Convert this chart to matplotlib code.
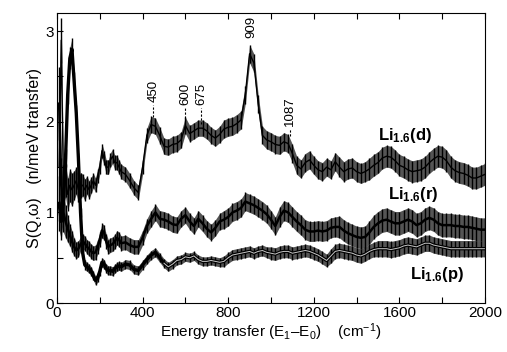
import numpy as np
import matplotlib
matplotlib.use("Agg")
import matplotlib.pyplot as plt
from matplotlib.ticker import MultipleLocator

plt.rcParams['font.family'] = ['Liberation Sans', 'DejaVu Sans']
plt.rcParams['mathtext.fontset'] = 'custom'
plt.rcParams['mathtext.rm'] = 'Liberation Sans'
plt.rcParams['mathtext.it'] = 'Liberation Sans:italic'
plt.rcParams['mathtext.bf'] = 'Liberation Sans:bold'

# energy transfer (cm-1)
energy = list(range(10, 301, 10)) + list(range(320, 2001, 20))

s_d = [1.5, 2.9, 1.3, 1.35, 1.2, 1.3, 1.25, 1.3, 1.35, 1.25,
       1.3, 1.3, 1.25, 1.3, 1.25, 1.3, 1.35, 1.3, 1.4, 1.5,
       1.68, 1.6, 1.5, 1.5, 1.58, 1.62, 1.55, 1.55, 1.5, 1.45,
       1.42, 1.35, 1.27, 1.22, 1.5, 1.85, 1.97, 1.95, 1.85, 1.73,
       1.72, 1.75, 1.76, 1.8, 1.96, 1.87, 1.9, 1.93, 1.93, 1.9,
       1.85, 1.82, 1.86, 1.92, 1.94, 1.95, 1.98, 2.02, 2.3, 2.75,
       2.65, 2.2, 1.85, 1.8, 1.78, 1.75, 1.74, 1.78, 1.76, 1.65,
       1.52, 1.48, 1.55, 1.58, 1.52, 1.47, 1.45, 1.5, 1.47, 1.56,
       1.5, 1.45, 1.48, 1.49, 1.45, 1.43, 1.45, 1.48, 1.52, 1.55,
       1.6, 1.62, 1.61, 1.57, 1.52, 1.5, 1.47, 1.45, 1.46, 1.47,
       1.5, 1.55, 1.59, 1.62, 1.61, 1.57, 1.5, 1.46, 1.44, 1.43,
       1.41, 1.38, 1.38, 1.4, 1.42]
err_d = [0.6, 0.25, 0.22, 0.18, 0.18, 0.18, 0.18, 0.16, 0.15, 0.14,
         0.14, 0.12, 0.12, 0.1, 0.1, 0.09, 0.08, 0.08, 0.08, 0.08,
         0.08, 0.08, 0.08, 0.08, 0.08, 0.08, 0.08, 0.08, 0.08, 0.08,
         0.08, 0.08, 0.08, 0.08, 0.08, 0.08, 0.09, 0.09, 0.09, 0.09,
         0.09, 0.09, 0.09, 0.09, 0.09, 0.09, 0.09, 0.09, 0.09, 0.09,
         0.09, 0.09, 0.09, 0.1, 0.1, 0.1, 0.1, 0.1, 0.1, 0.1,
         0.1, 0.1, 0.1, 0.1, 0.1, 0.1, 0.1, 0.1, 0.1, 0.1,
         0.1, 0.1, 0.1, 0.1, 0.1, 0.1, 0.1, 0.1, 0.1, 0.1,
         0.11, 0.11, 0.11, 0.11, 0.11, 0.11, 0.11, 0.12, 0.12, 0.12,
         0.12, 0.12, 0.12, 0.12, 0.12, 0.12, 0.12, 0.12, 0.12, 0.12,
         0.12, 0.12, 0.12, 0.12, 0.12, 0.12, 0.12, 0.12, 0.12, 0.12,
         0.12, 0.12, 0.12, 0.12, 0.12]

s_r = [2.2, 1.3, 1.0, 0.9, 0.82, 0.75, 0.68, 0.62, 0.58, 0.6,
       0.65, 0.68, 0.66, 0.62, 0.6, 0.57, 0.55, 0.56, 0.62, 0.7,
       0.8, 0.78, 0.68, 0.62, 0.64, 0.65, 0.68, 0.72, 0.7, 0.66,
       0.67, 0.64, 0.62, 0.62, 0.72, 0.85, 0.93, 1.0, 0.93, 0.92,
       0.9, 0.87, 0.86, 0.93, 0.97, 0.9, 0.85, 0.93, 0.88, 0.82,
       0.78, 0.83, 0.9, 0.92, 0.95, 1.0, 1.02, 1.05, 1.12, 1.1,
       1.08, 1.05, 1.02, 0.98, 0.92, 0.85, 0.95, 1.02, 1.0, 0.95,
       0.9, 0.86, 0.81, 0.79, 0.79, 0.8, 0.79, 0.8, 0.83, 0.84,
       0.84, 0.8, 0.77, 0.75, 0.73, 0.72, 0.73, 0.78, 0.84, 0.88,
       0.91, 0.92, 0.9, 0.88, 0.88, 0.9, 0.92, 0.9, 0.86, 0.88,
       0.92, 0.94, 0.92, 0.88, 0.86, 0.86, 0.86, 0.85, 0.85, 0.84,
       0.84, 0.83, 0.82, 0.81, 0.81]
err_r = [0.4, 0.3, 0.22, 0.18, 0.15, 0.12, 0.12, 0.1, 0.09, 0.09,
         0.08, 0.08, 0.08, 0.08, 0.08, 0.08, 0.08, 0.08, 0.08, 0.08,
         0.08, 0.08, 0.08, 0.08, 0.08, 0.08, 0.08, 0.08, 0.08, 0.08,
         0.08, 0.08, 0.08, 0.08, 0.08, 0.08, 0.09, 0.09, 0.09, 0.09,
         0.09, 0.09, 0.09, 0.09, 0.09, 0.09, 0.09, 0.09, 0.09, 0.09,
         0.09, 0.09, 0.09, 0.1, 0.1, 0.1, 0.1, 0.1, 0.1, 0.1,
         0.1, 0.1, 0.1, 0.1, 0.1, 0.1, 0.11, 0.11, 0.11, 0.11,
         0.11, 0.11, 0.11, 0.11, 0.11, 0.11, 0.11, 0.11, 0.11, 0.11,
         0.12, 0.12, 0.12, 0.12, 0.12, 0.12, 0.12, 0.13, 0.13, 0.13,
         0.13, 0.13, 0.13, 0.13, 0.13, 0.13, 0.13, 0.13, 0.13, 0.13,
         0.13, 0.13, 0.13, 0.13, 0.13, 0.13, 0.13, 0.13, 0.13, 0.13,
         0.13, 0.13, 0.13, 0.13, 0.13]

s_p = [1.1, 0.9, 1.1, 1.6, 2.3, 2.7, 2.8, 2.45, 2.1, 1.6,
       1.0, 0.55, 0.42, 0.4, 0.38, 0.35, 0.3, 0.25, 0.28, 0.35,
       0.45, 0.43, 0.38, 0.36, 0.36, 0.35, 0.38, 0.4, 0.41, 0.4,
       0.43, 0.42, 0.37, 0.36, 0.42, 0.48, 0.53, 0.56, 0.5, 0.44,
       0.4, 0.43, 0.47, 0.48, 0.51, 0.5, 0.52, 0.48, 0.46, 0.46,
       0.47, 0.46, 0.45, 0.46, 0.5, 0.53, 0.54, 0.55, 0.56, 0.57,
       0.55, 0.57, 0.58, 0.56, 0.55, 0.54, 0.56, 0.57, 0.57, 0.55,
       0.56, 0.57, 0.58, 0.57, 0.55, 0.53, 0.5, 0.47, 0.52, 0.57,
       0.58, 0.57, 0.56, 0.55, 0.53, 0.52, 0.54, 0.57, 0.59, 0.6,
       0.6, 0.6, 0.59, 0.6, 0.61, 0.63, 0.64, 0.63, 0.62, 0.64,
       0.66, 0.66, 0.64, 0.63, 0.62, 0.61, 0.6, 0.6, 0.6, 0.6,
       0.6, 0.6, 0.6, 0.6, 0.6]
err_p = [0.3, 0.2, 0.15, 0.1, 0.1, 0.12, 0.12, 0.1, 0.08, 0.06,
         0.05, 0.05, 0.05, 0.05, 0.05, 0.05, 0.05, 0.05, 0.05, 0.05,
         0.05, 0.05, 0.05, 0.05, 0.05, 0.05, 0.05, 0.05, 0.05, 0.05,
         0.05, 0.05, 0.05, 0.05, 0.05, 0.05, 0.05, 0.05, 0.05, 0.05,
         0.05, 0.05, 0.05, 0.05, 0.05, 0.05, 0.05, 0.05, 0.05, 0.05,
         0.05, 0.05, 0.05, 0.06, 0.06, 0.06, 0.06, 0.06, 0.06, 0.06,
         0.06, 0.06, 0.06, 0.06, 0.07, 0.07, 0.07, 0.07, 0.07, 0.07,
         0.07, 0.07, 0.07, 0.07, 0.07, 0.07, 0.07, 0.07, 0.08, 0.08,
         0.08, 0.08, 0.08, 0.08, 0.08, 0.08, 0.08, 0.08, 0.08, 0.09,
         0.09, 0.09, 0.09, 0.09, 0.09, 0.09, 0.09, 0.09, 0.09, 0.09,
         0.09, 0.09, 0.09, 0.09, 0.09, 0.09, 0.09, 0.09, 0.09, 0.09,
         0.09, 0.09, 0.09, 0.09, 0.09]

# peak marks: position, dash bottom, text bottom
peaks = [450, 600, 675, 909, 1087]
peak_y = [2.05, 2.0, 1.98, None, 1.84]
text_y = [2.22, 2.18, 2.18, 2.92, 1.95]

series_labels = [r'$\mathbf{Li_{1.6}(d)}$', r'$\mathbf{Li_{1.6}(r)}$', r'$\mathbf{Li_{1.6}(p)}$']
label_pos = [(1500, 1.8), (1548, 1.15), (1650, 0.27)]

fig = plt.figure(figsize=(5.07, 3.52), dpi=100)
ax = fig.add_axes([0.1124, 0.139, 0.8442, 0.824])

x = np.array(energy)
for y, e in [(s_d, err_d), (s_r, err_r), (s_p, err_p)]:
    y = np.array(y)
    e = np.array(e)
    ax.fill_between(x, y - e, y + e, color='#555555', lw=0)
    ax.errorbar(x, y, yerr=e, fmt='none', ecolor='black', elinewidth=1.0, capsize=0)

ax.plot(x, s_d, color='black', lw=1.0)
ax.plot(x, s_r, color='black', lw=1.8)
ax.plot(x, s_p, color='black', lw=2.4)
core = x >= 500
ax.plot(x[core], np.array(s_p)[core], color='#c8c8c8', lw=0.7)

for px, py, ty in zip(peaks, peak_y, text_y):
    if py is not None:
        ax.plot([px, px], [py, ty - 0.03], color='black', lw=0.8, ls=(0, (2, 1.5)))
    ax.text(px, ty, str(px), rotation=90, ha='center', va='bottom', fontsize=9.5)

for lab, (lx, ly) in zip(series_labels, label_pos):
    ax.text(lx, ly, lab, fontsize=12, ha='left', va='baseline')

ax.set_xlim(0, 2000)
ax.set_ylim(0, 3.2)
ax.xaxis.set_major_locator(MultipleLocator(400))
ax.xaxis.set_minor_locator(MultipleLocator(200))
ax.yaxis.set_major_locator(MultipleLocator(1))
ax.yaxis.set_minor_locator(MultipleLocator(0.5))
ax.tick_params(which='both', direction='in', top=True, right=False, length=4, width=0.8, labelsize=11, pad=2)

ax.set_xlabel('Energy transfer (E$_1$–E$_0$)    (cm$^{-1}$)', fontsize=11, labelpad=1)
ax.set_ylabel('S(Q,ω)   (n/meV transfer)', fontsize=11.5, labelpad=3)

fig.savefig('out.png', dpi=100)
